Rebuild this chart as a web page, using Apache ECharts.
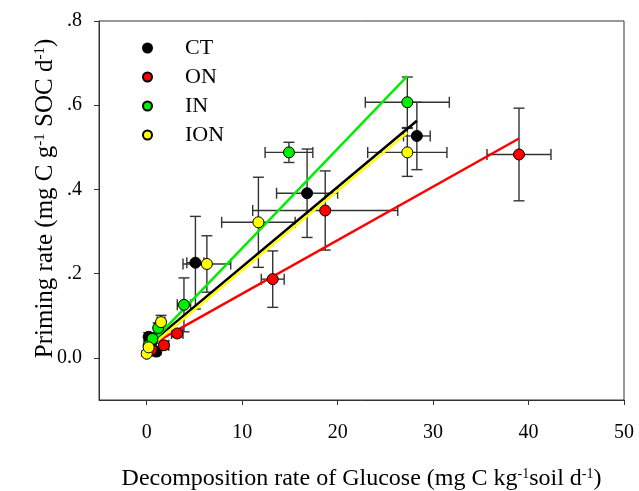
<!DOCTYPE html>
<html><head><meta charset="utf-8">
<script src="https://cdn.jsdelivr.net/npm/echarts@6/dist/echarts.min.js"></script>
<style>html,body{margin:0;padding:0;background:#fff}#c{width:639px;height:491px}</style>
</head><body><div id="c"></div>
<script>
var groups = ['CT', 'ON', 'IN', 'ION'];
var colors = ['#000000', '#ff0000', '#00ee00', '#ffff00'];
var lineColors = ['#000000', '#ff0000', '#00ee00', '#ffff00'];

var ctX = [0.2, 0.5, 1.0, 5.1, 16.8, 28.3];
var ctY = [0.05, 0.038, 0.015, 0.226, 0.391, 0.527];
var ctXErr = [0.2, 0.3, 0.3, 0.9, 3.2, 1.4];
var ctYErr = [0.01, 0.01, 0.008, 0.11, 0.105, 0.08];

var onX = [0.5, 1.8, 3.2, 13.2, 18.7, 39.0];
var onY = [0.02, 0.03, 0.058, 0.187, 0.35, 0.483];
var onXErr = [0.3, 0.5, 0.6, 1.2, 7.6, 3.35];
var onYErr = [0.008, 0.01, 0.008, 0.067, 0.094, 0.11];

var inX = [0.2, 0.6, 1.2, 3.9, 14.9, 27.3];
var inY = [0.03, 0.045, 0.071, 0.126, 0.488, 0.607];
var inXErr = [0.2, 0.3, 0.4, 0.7, 2.5, 4.4];
var inYErr = [0.01, 0.01, 0.012, 0.064, 0.024, 0.06];

var ionX = [0.0, 0.2, 1.5, 6.3, 11.7, 27.3];
var ionY = [0.01, 0.025, 0.085, 0.223, 0.322, 0.488];
var ionXErr = [0.1, 0.2, 0.4, 2.5, 3.85, 4.15];
var ionYErr = [0.006, 0.008, 0.016, 0.067, 0.107, 0.057];

var ctFit = [[0.1, 0.029], [28.3, 0.563]];
var onFit = [[0.3, 0.029], [39.0, 0.521]];
var inFit = [[0.1, 0.027], [27.3, 0.669]];
var ionFit = [[0.0, 0.020], [27.3, 0.535]];

var xTicks = [0, 10, 20, 30, 40, 50];
var yTicks = [0, 0.2, 0.4, 0.6, 0.8];
var yTickLabels = ['0.0', '.2', '.4', '.6', '.8'];

var sets = [
  [ctX, ctY, ctXErr, ctYErr, ctFit],
  [onX, onY, onXErr, onYErr, onFit],
  [inX, inY, inXErr, inYErr, inFit],
  [ionX, ionY, ionXErr, ionYErr, ionFit]
];

var FONT = '"Liberation Serif", "Times New Roman", serif';
var CAP = 5.5;

function errRender(params, api) {
  var x = api.value(0), y = api.value(1), xe = api.value(2), ye = api.value(3);
  var c = api.coord([x, y]);
  var l = api.coord([x - xe, y]), r = api.coord([x + xe, y]);
  var t = api.coord([x, y + ye]), b = api.coord([x, y - ye]);
  var st = {stroke: '#333', lineWidth: 1.4};
  function ln(x1, y1, x2, y2) { return {type: 'line', shape: {x1: x1, y1: y1, x2: x2, y2: y2}, style: st}; }
  return {type: 'group', children: [
    ln(l[0], c[1], r[0], c[1]),
    ln(c[0], t[1], c[0], b[1]),
    ln(l[0], c[1] - CAP, l[0], c[1] + CAP),
    ln(r[0], c[1] - CAP, r[0], c[1] + CAP),
    ln(c[0] - CAP, t[1], c[0] + CAP, t[1]),
    ln(c[0] - CAP, b[1], c[0] + CAP, b[1])
  ]};
}

var series = [];
sets.forEach(function (s, i) {
  series.push({
    type: 'custom', name: groups[i] + '_err', coordinateSystem: 'cartesian2d',
    renderItem: errRender, silent: true, z: 1,
    encode: {x: 0, y: 1},
    data: s[0].map(function (v, k) { return [v, s[1][k], s[2][k], s[3][k]]; })
  });
});
sets.forEach(function (s, i) {
  series.push({
    type: 'line', name: groups[i] + '_fit', data: s[4], showSymbol: false, silent: true, z: 2,
    lineStyle: {color: lineColors[i], width: 2.5}
  });
});
sets.forEach(function (s, i) {
  series.push({
    type: 'scatter', name: groups[i], z: 3,
    symbol: 'circle', symbolSize: 11,
    itemStyle: {color: colors[i], borderColor: '#000', borderWidth: 1, opacity: 1},
    data: s[0].map(function (v, k) { return [v, s[1][k]]; })
  });
});

var chart = echarts.init(document.getElementById('c'), null, {renderer: 'canvas'});
chart.setOption({
  animation: false,
  backgroundColor: '#fff',
  grid: {left: 99, right: 15, top: 21, bottom: 91, show: true, borderColor: '#333', borderWidth: 1,
    containLabel: false, outerBoundsMode: 'none'},
  legend: {
    data: groups, orient: 'vertical', left: 137, top: 32,
    itemWidth: 9, itemHeight: 9, itemGap: 7, icon: 'circle',
    textStyle: {fontFamily: FONT, fontSize: 22, color: '#000', lineHeight: 22, padding: [0, 0, 0, 28]}
  },
  xAxis: {
    type: 'value', min: -5, max: 50,
    splitLine: {show: false},
    axisLine: {onZero: false, lineStyle: {color: '#333', width: 1}},
    axisTick: {length: 5, lineStyle: {color: '#333'}, customValues: xTicks},
    axisLabel: {customValues: xTicks, fontFamily: FONT, fontSize: 20, color: '#000', margin: 23},
    name: 'Decomposition rate of Glucose (mg C kg{s|-1}soil d{s|-1})',
    nameLocation: 'middle', nameGap: 67, nameMoveOverlap: false,
    nameTextStyle: {fontFamily: FONT, fontSize: 24, color: '#000',
      rich: {s: {fontFamily: FONT, fontSize: 14, verticalAlign: 'top', color: '#000'}}}
  },
  yAxis: {
    type: 'value', min: -0.1, max: 0.8,
    splitLine: {show: false},
    axisLine: {onZero: false, lineStyle: {color: '#333', width: 1}},
    axisTick: {length: 5, lineStyle: {color: '#333'}, customValues: yTicks},
    axisLabel: {customValues: yTicks, fontFamily: FONT, fontSize: 20, color: '#000', margin: 17,
      formatter: function (v) { var k = yTicks.indexOf(Math.round(v * 10) / 10); return k >= 0 ? yTickLabels[k] : ''; }},
    name: 'Priming rate (mg C g{s|-1} SOC d{s|-1})',
    nameLocation: 'middle', nameGap: 41, nameRotate: 90, nameMoveOverlap: false,
    nameTextStyle: {fontFamily: FONT, fontSize: 25, color: '#000', padding: [0, 0, 0, 24],
      rich: {s: {fontFamily: FONT, fontSize: 15, verticalAlign: 'top', color: '#000'}}}
  },
  series: series
});
</script></body></html>
